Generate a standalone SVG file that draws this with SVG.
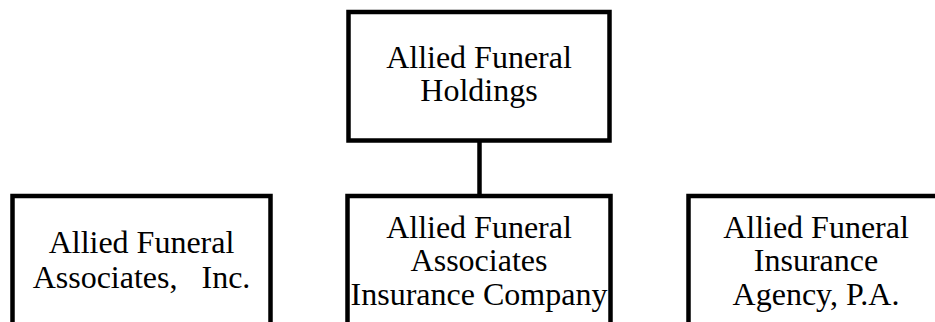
<svg xmlns="http://www.w3.org/2000/svg" width="935" height="322" viewBox="0 0 935 322">
<style>
.box{fill:#ffffff;stroke:#000000;stroke-width:4.5}
.conn{stroke:#000000;stroke-width:4.5;fill:none}
text{font-family:"Liberation Serif","Times New Roman",serif;font-size:32px;fill:#000000;text-anchor:middle;white-space:pre}
</style>
<rect x="0" y="0" width="935" height="322" fill="#ffffff"/>
<g id="connectors">
<line class="conn" x1="479.5" y1="142" x2="479.5" y2="196"/>
</g>
<g id="holdings">
<rect class="box" x="348.5" y="12" width="261" height="128.5"/>
<text x="479" y="68">Allied Funeral</text>
<text x="479" y="101">Holdings</text>
</g>
<g id="associates">
<rect class="box" x="12.5" y="196" width="258" height="150"/>
<text x="141.5" y="253">Allied Funeral</text>
<text x="141.5" y="288">Associates,   Inc.</text>
</g>
<g id="insurance-company">
<rect class="box" x="347.5" y="196" width="263" height="150"/>
<text x="479" y="237.5">Allied Funeral</text>
<text x="479" y="271">Associates</text>
<text x="479" y="304.5">Insurance Company</text>
</g>
<g id="insurance-agency">
<rect class="box" x="688.5" y="196" width="270" height="150"/>
<text x="816" y="238">Allied Funeral</text>
<text x="816" y="271">Insurance</text>
<text x="816" y="304.5">Agency, P.A.</text>
</g>
</svg>
